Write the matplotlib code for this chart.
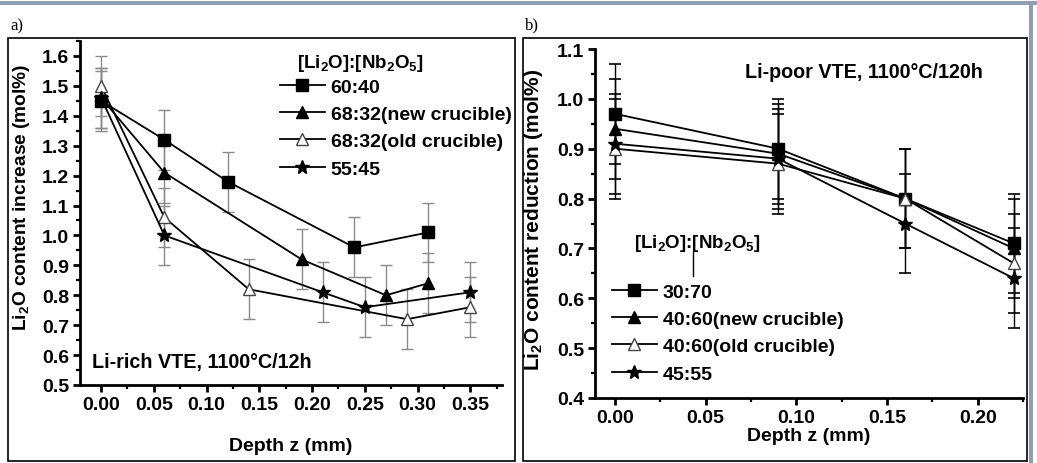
import numpy as np
import matplotlib
matplotlib.use("Agg")
import matplotlib.pyplot as plt
from matplotlib.patches import Rectangle
from matplotlib.lines import Line2D
from matplotlib.ticker import MultipleLocator

plt.rcParams['font.family'] = ['Liberation Sans', 'DejaVu Sans']
plt.rcParams['font.weight'] = 'bold'
plt.rcParams['mathtext.fontset'] = 'custom'
plt.rcParams['mathtext.rm'] = 'Liberation Sans:bold'
plt.rcParams['mathtext.default'] = 'regular'

# ---- panel a) Li-rich VTE ----
a_labels = ["60:40", "68:32(new crucible)", "68:32(old crucible)", "55:45"]
a_z = [[0.00, 0.06, 0.12, 0.24, 0.31],
       [0.00, 0.06, 0.19, 0.27, 0.31],
       [0.00, 0.06, 0.14, 0.29, 0.35],
       [0.00, 0.06, 0.21, 0.25, 0.35]]
a_val = [[1.45, 1.32, 1.18, 0.96, 1.01],
         [1.46, 1.21, 0.92, 0.80, 0.84],
         [1.50, 1.06, 0.82, 0.72, 0.76],
         [1.46, 1.00, 0.81, 0.76, 0.81]]
a_err = [[0.10] * 5, [0.10] * 5, [0.10] * 5, [0.10] * 5]

# ---- panel b) Li-poor VTE ----
b_labels = ["30:70", "40:60(new crucible)", "40:60(old crucible)", "45:55"]
b_z = [0.00, 0.09, 0.16, 0.22]
b_val = [[0.97, 0.90, 0.80, 0.71],
         [0.94, 0.89, 0.80, 0.70],
         [0.90, 0.87, 0.80, 0.67],
         [0.91, 0.88, 0.75, 0.64]]
b_err = [[0.10] * 4, [0.10] * 4, [0.10] * 4, [0.10] * 4]

markers = ['s', '^', '^', '*']
faces = ['black', 'black', 'white', 'black']
msizes = [8.5, 9, 9, 10.5]

FS = 14

W, H = 1037, 464
fig = plt.figure(figsize=(W / 100, H / 100), dpi=100)


def fx(px):
    return px / W


def fy(py):
    return 1 - py / H


# panel frames and border bands
for x0, x1 in [(8, 515), (523, 1027)]:
    fig.add_artist(Rectangle((fx(x0), fy(462)), fx(x1 - x0), (462 - 39) / H,
                             transform=fig.transFigure, fill=False,
                             edgecolor='black', lw=1.2))
fig.add_artist(Rectangle((0, fy(6)), 1, 4 / H, transform=fig.transFigure,
                         facecolor='#8c9fb8', edgecolor='none'))
fig.add_artist(Rectangle((fx(1029), 0), 4 / W, fy(2), transform=fig.transFigure,
                         facecolor='#8c9fb8', edgecolor='none'))
fig.text(fx(10), fy(30), "a)", family='Liberation Serif', weight='normal',
         fontsize=12, va='baseline')
fig.text(fx(525), fy(29), "b)", family='Liberation Serif', weight='normal',
         fontsize=12, va='baseline')


def style_axes(ax):
    for s in ['top', 'right']:
        ax.spines[s].set_visible(False)
    for s in ['left', 'bottom']:
        ax.spines[s].set_linewidth(2)
    ax.tick_params(which='major', direction='out', length=5, width=2,
                   labelsize=FS, pad=3)
    ax.tick_params(which='minor', direction='out', length=3, width=1.6)
    for lab in ax.get_xticklabels() + ax.get_yticklabels():
        lab.set_fontweight('bold')


# ---- left axes ----
ax1 = fig.add_axes([fx(80), fy(386), fx(502 - 80), (386 - 42) / H])
handles = []
for i in range(4):
    ax1.errorbar(a_z[i], a_val[i], yerr=a_err[i], fmt='none', ecolor='#8a8a8a',
                 elinewidth=1, capsize=4, capthick=1, zorder=1)
    ln, = ax1.plot(a_z[i], a_val[i], color='black', lw=1.3, marker=markers[i],
                   markersize=msizes[i], markerfacecolor=faces[i],
                   markeredgecolor='black' if i != 2 else '#444444', zorder=3)
    handles.append(ln)
ax1.set_xlim(-0.02, 0.38)
ax1.set_ylim(0.5, 1.65)
ax1.xaxis.set_minor_locator(MultipleLocator(0.025))
ax1.yaxis.set_minor_locator(MultipleLocator(0.05))
ax1.set_xticks(np.arange(0, 0.351, 0.05))
ax1.set_xticklabels(["%.2f" % v for v in np.arange(0, 0.351, 0.05)])
ax1.set_yticks(np.arange(0.5, 1.61, 0.1))
ax1.set_yticklabels(["%.1f" % v for v in np.arange(0.5, 1.61, 0.1)])
style_axes(ax1)
ax1.set_xlabel("Depth z (mm)", fontsize=FS, weight='bold', labelpad=17)
ax1.set_ylabel("Li$_2$O content increase (mol%)", fontsize=13.8, weight='bold')
ax1.yaxis.set_label_coords(fx(32 - 80) / fx(502 - 80), (386 - 197) / (386 - 42))
ax1.text(fx(92 - 80) / fx(502 - 80), (386 - 363) / (386 - 42),
         "Li-rich VTE, 1100°C/12h", transform=ax1.transAxes, fontsize=14.2,
         weight='bold', va='center', ha='left')
fig.text(fx(360), fy(63), "[Li$_2$O]:[Nb$_2$O$_5$]", fontsize=13.5,
         weight='bold', ha='center', va='center')
ax1.legend(handles, a_labels, loc='upper left',
           bbox_to_anchor=(fx(280 - 80) / fx(502 - 80), (386 - 79) / (386 - 42)),
           frameon=False, handlelength=2.3, handletextpad=0.3,
           labelspacing=0.5, borderaxespad=0, borderpad=0,
           prop={'weight': 'bold', 'size': FS})

# ---- right axes ----
ax2 = fig.add_axes([fx(595), fy(399), fx(1023 - 595), (399 - 50) / H])
handles2 = []
for i in range(4):
    ax2.errorbar(b_z, b_val[i], yerr=b_err[i], fmt='none', ecolor='black',
                 elinewidth=1, capsize=4, capthick=1.2, zorder=1)
    ln, = ax2.plot(b_z, b_val[i], color='black', lw=1.3, marker=markers[i],
                   markersize=msizes[i], markerfacecolor=faces[i],
                   markeredgecolor='black' if i != 2 else '#444444', zorder=3)
    handles2.append(ln)
ax2.set_xlim(-0.011, 0.225)
ax2.set_ylim(0.4, 1.1)
ax2.xaxis.set_minor_locator(MultipleLocator(0.025))
ax2.yaxis.set_minor_locator(MultipleLocator(0.05))
ax2.set_xticks(np.arange(0, 0.201, 0.05))
ax2.set_xticklabels(["%.2f" % v for v in np.arange(0, 0.201, 0.05)])
ax2.set_yticks(np.arange(0.4, 1.101, 0.1))
ax2.set_yticklabels(["%.1f" % v for v in np.arange(0.4, 1.101, 0.1)])
style_axes(ax2)
ax2.set_xlabel("Depth z (mm)", fontsize=FS, weight='bold', labelpad=1)
ax2.set_ylabel("Li$_2$O content reduction (mol%)", fontsize=15, weight='bold')
ax2.yaxis.set_label_coords(fx(545 - 595) / fx(1023 - 595), (399 - 220) / (399 - 50))
ax2.text(fx(864 - 595) / fx(1023 - 595), (399 - 72) / (399 - 50),
         "Li-poor VTE, 1100°C/120h", transform=ax2.transAxes, fontsize=14.2,
         weight='bold', va='center', ha='center')
fig.text(fx(697), fy(244), "[Li$_2$O]:[Nb$_2$O$_5$]", fontsize=13.5,
         weight='bold', ha='center', va='center')
fig.add_artist(Line2D([fx(693), fx(693)], [fy(253), fy(277)], color='black',
                      lw=1, transform=fig.transFigure))
ax2.legend(handles2, b_labels, loc='upper left',
           bbox_to_anchor=(fx(612 - 595) / fx(1023 - 595), (399 - 284) / (399 - 50)),
           frameon=False, handlelength=2.3, handletextpad=0.3,
           labelspacing=0.5, borderaxespad=0, borderpad=0,
           prop={'weight': 'bold', 'size': FS})

fig.savefig("out.png", dpi=100)
